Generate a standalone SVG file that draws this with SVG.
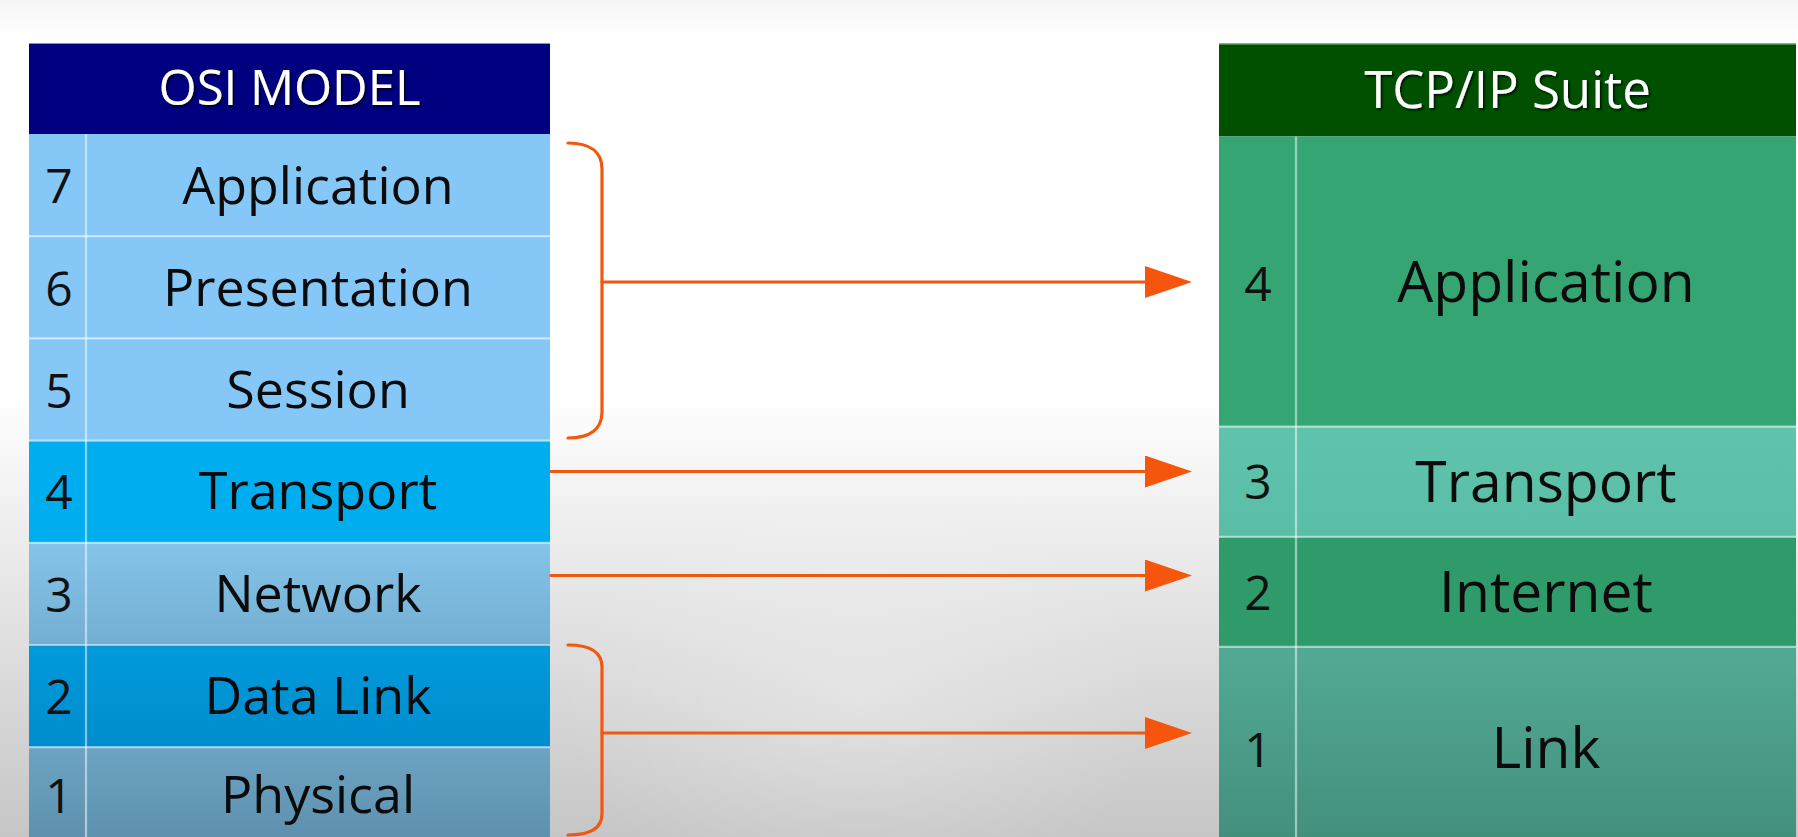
<svg xmlns="http://www.w3.org/2000/svg" width="1798" height="837" viewBox="0 0 1798 837">
<defs>
  <linearGradient id="bgV" gradientUnits="userSpaceOnUse" x1="0" y1="0" x2="0" y2="837">
    <stop offset="0" stop-color="#f6f6f6"/>
    <stop offset="0.035" stop-color="#fdfdfd"/>
    <stop offset="0.06" stop-color="#ffffff"/>
    <stop offset="0.47" stop-color="#ffffff"/>
    <stop offset="1" stop-color="#c6c6c6"/>
  </linearGradient>
  <radialGradient id="bgHi" gradientUnits="userSpaceOnUse" cx="860" cy="700" r="300" gradientTransform="translate(860 700) scale(1 0.7) translate(-860 -700)">
    <stop offset="0" stop-color="#ffffff" stop-opacity="0.3"/>
    <stop offset="1" stop-color="#ffffff" stop-opacity="0"/>
  </radialGradient>
  <linearGradient id="gNet" x1="0" y1="0" x2="0" y2="1">
    <stop offset="0" stop-color="#86c3e8"/>
    <stop offset="1" stop-color="#72afd3"/>
  </linearGradient>
  <linearGradient id="gDL" x1="0" y1="0" x2="0" y2="1">
    <stop offset="0" stop-color="#009adb"/>
    <stop offset="1" stop-color="#008dce"/>
  </linearGradient>
  <linearGradient id="gPhy" x1="0" y1="0" x2="0" y2="1">
    <stop offset="0" stop-color="#6da3c3"/>
    <stop offset="1" stop-color="#5d91ae"/>
  </linearGradient>
  <linearGradient id="gLink" x1="0" y1="0" x2="0" y2="1">
    <stop offset="0" stop-color="#52aa95"/>
    <stop offset="1" stop-color="#43907d"/>
  </linearGradient>
  <linearGradient id="gTr" x1="0" y1="0" x2="0" y2="1">
    <stop offset="0" stop-color="#60c4ac"/>
    <stop offset="1" stop-color="#5abda6"/>
  </linearGradient>
  <filter id="shadow" x="-10%" y="-30%" width="120%" height="160%">
    <feDropShadow dx="1.6" dy="1.8" stdDeviation="0.9" flood-color="#000000" flood-opacity="0.75"/>
  </filter>
  <marker id="arrow" markerUnits="userSpaceOnUse" markerWidth="48" markerHeight="34" refX="5" refY="16" orient="auto">
    <path d="M0,0 L47,16 L0,32 Z" fill="#f6560c"/>
  </marker>
</defs>
<style>
  .lbl{font-family:"Open Sans","Noto Sans","DejaVu Sans",sans-serif;fill:#0b0b0b;text-anchor:middle}
  .osi{font-size:52px}
  .tcp{font-size:57px}
  .num{font-family:"Open Sans","Noto Sans","DejaVu Sans",sans-serif;fill:#111111;text-anchor:middle;font-size:48px}
  .hdr{font-family:"Open Sans","Noto Sans","DejaVu Sans",sans-serif;fill:#ffffff;text-anchor:middle;filter:url(#shadow)}
  .sep{stroke:#ffffff;stroke-opacity:0.5;stroke-width:2.2;fill:none}
  .wire{stroke:#f0580f;stroke-width:3.2;fill:none;stroke-linecap:round}
</style>

<g id="background">
  <rect x="0" y="0" width="1798" height="837" fill="url(#bgV)"/>
  <rect x="0" y="380" width="1798" height="457" fill="url(#bgHi)"/>
</g>

<g id="osi-table">
  <g id="osi-header">
    <rect x="29" y="43" width="521" height="91" fill="#000080"/>
    <line x1="29" y1="43.5" x2="550" y2="43.5" stroke="#8c8ccc" stroke-width="1.2"/>
    <text class="hdr" x="289.5" y="104.5" font-size="49">OSI MODEL</text>
  </g>
  <g id="osi-7">
    <rect x="29" y="134" width="521" height="102.2" fill="#85c8f8"/>
    <text class="num" x="59" y="203">7</text>
    <text class="lbl osi" x="318" y="203.5">Application</text>
  </g>
  <g id="osi-6">
    <rect x="29" y="236.2" width="521" height="102.2" fill="#85c8f8"/>
    <text class="num" x="59" y="305.5">6</text>
    <text class="lbl osi" x="318" y="305.5">Presentation</text>
  </g>
  <g id="osi-5">
    <rect x="29" y="338.4" width="521" height="102.2" fill="#85c8f8"/>
    <text class="num" x="59" y="407.5">5</text>
    <text class="lbl osi" x="318" y="407.5">Session</text>
  </g>
  <g id="osi-4">
    <rect x="29" y="440.6" width="521" height="102.2" fill="#00aef0"/>
    <text class="num" x="59" y="509">4</text>
    <text class="lbl osi" x="318" y="509">Transport</text>
  </g>
  <g id="osi-3">
    <rect x="29" y="542.8" width="521" height="102.2" fill="url(#gNet)"/>
    <text class="num" x="59" y="611.5">3</text>
    <text class="lbl osi" x="318" y="611.5">Network</text>
  </g>
  <g id="osi-2">
    <rect x="29" y="645" width="521" height="102.2" fill="url(#gDL)"/>
    <text class="num" x="59" y="713.5">2</text>
    <text class="lbl osi" x="318" y="713.5">Data Link</text>
  </g>
  <g id="osi-1">
    <rect x="29" y="747.2" width="521" height="90" fill="url(#gPhy)"/>
    <text class="num" x="59" y="812.5">1</text>
    <text class="lbl osi" x="318" y="812.5">Physical</text>
  </g>
  <g id="osi-grid">
    <line class="sep" x1="86" y1="134" x2="86" y2="837"/>
    <line class="sep" x1="29" y1="236.2" x2="550" y2="236.2"/>
    <line class="sep" x1="29" y1="338.4" x2="550" y2="338.4"/>
    <line class="sep" x1="29" y1="440.6" x2="550" y2="440.6"/>
    <line class="sep" x1="29" y1="542.8" x2="550" y2="542.8"/>
    <line class="sep" x1="29" y1="645" x2="550" y2="645"/>
    <line class="sep" x1="29" y1="747.2" x2="550" y2="747.2"/>
  </g>
</g>

<g id="tcp-table">
  <g id="tcp-header">
    <rect x="1219" y="43.5" width="577" height="93" fill="#005000"/>
    <line x1="1219" y1="44" x2="1796" y2="44" stroke="#8cbf8c" stroke-width="1.2"/>
    <text class="hdr" x="1507.5" y="107.5" font-size="51">TCP/IP Suite</text>
  </g>
  <g id="tcp-4">
    <rect x="1219" y="136.5" width="577" height="290.2" fill="#34a573"/>
    <text class="num" x="1258" y="300.5">4</text>
    <text class="lbl tcp" x="1546" y="301.5">Application</text>
  </g>
  <g id="tcp-3">
    <rect x="1219" y="426.7" width="577" height="110.2" fill="url(#gTr)"/>
    <text class="num" x="1258" y="498.5">3</text>
    <text class="lbl tcp" x="1546" y="501.5">Transport</text>
  </g>
  <g id="tcp-2">
    <rect x="1219" y="536.9" width="577" height="110" fill="#2f9b6b"/>
    <text class="num" x="1258" y="610">2</text>
    <text class="lbl tcp" x="1546" y="611.5">Internet</text>
  </g>
  <g id="tcp-1">
    <rect x="1219" y="646.9" width="577" height="190.1" fill="url(#gLink)"/>
    <text class="num" x="1258" y="766.5">1</text>
    <text class="lbl tcp" x="1546" y="768">Link</text>
  </g>
  <g id="tcp-grid">
    <line class="sep" x1="1296" y1="136.5" x2="1296" y2="837"/>
    <line class="sep" x1="1219" y1="426.7" x2="1796" y2="426.7"/>
    <line class="sep" x1="1219" y1="536.9" x2="1796" y2="536.9"/>
    <line class="sep" x1="1219" y1="646.9" x2="1796" y2="646.9"/>
  </g>
</g>

<g id="connectors">
  <path class="wire" d="M568,143 C590,143 602,152 602,169 V412 C602,429 590,438 568,438"/>
  <line class="wire" x1="602" y1="282" x2="1150" y2="282" marker-end="url(#arrow)"/>
  <line class="wire" x1="551" y1="471.5" x2="1150" y2="471.5" marker-end="url(#arrow)"/>
  <line class="wire" x1="551" y1="575.5" x2="1150" y2="575.5" marker-end="url(#arrow)"/>
  <path class="wire" d="M568,645 C590,645 602,652 602,667 V814 C602,829 590,835 568,835"/>
  <line class="wire" x1="602" y1="733" x2="1150" y2="733" marker-end="url(#arrow)"/>
</g>
</svg>
